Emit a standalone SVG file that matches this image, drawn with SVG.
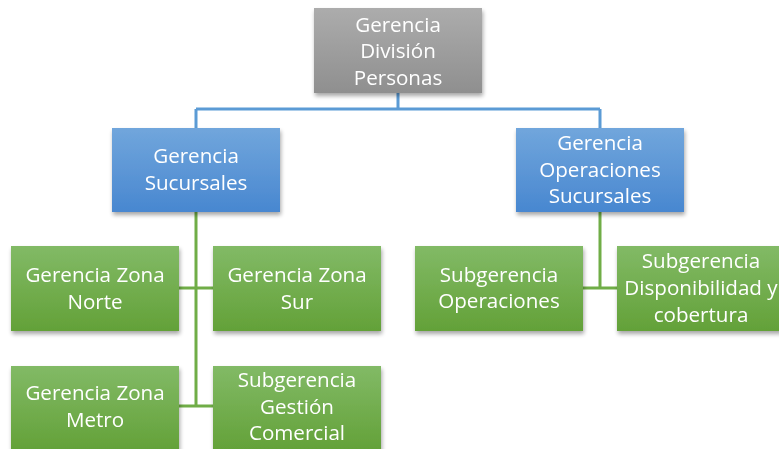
<svg xmlns="http://www.w3.org/2000/svg" width="779" height="449" viewBox="0 0 779 449">
<defs>
<linearGradient id="gGray" x1="0" y1="0" x2="0" y2="1"><stop offset="0" stop-color="#acacac"/><stop offset="1" stop-color="#8f8f8f"/></linearGradient>
<linearGradient id="gBlue" x1="0" y1="0" x2="0" y2="1"><stop offset="0" stop-color="#71a6dc"/><stop offset="1" stop-color="#4887d0"/></linearGradient>
<linearGradient id="gGreen" x1="0" y1="0" x2="0" y2="1"><stop offset="0" stop-color="#82ba66"/><stop offset="1" stop-color="#63a138"/></linearGradient>
<filter id="sh" x="-10%" y="-10%" width="125%" height="130%"><feGaussianBlur in="SourceAlpha" stdDeviation="2"/><feOffset dx="1" dy="3"/><feComponentTransfer><feFuncA type="linear" slope="0.35"/></feComponentTransfer><feMerge><feMergeNode/><feMergeNode in="SourceGraphic"/></feMerge></filter>
</defs>
<style>
text{font-family:"Open Sans","Liberation Sans",sans-serif;font-size:20.6px;fill:#fff;text-anchor:middle}
.gray{fill:url(#gGray)}
.blue{fill:url(#gBlue)}
.green{fill:url(#gGreen)}
.lb{stroke:#5b9bd5;stroke-width:3;fill:none}
.lg{stroke:#70ad47;stroke-width:3;fill:none}
</style>
<g id="connectors">
<path class="lb" d="M398 93V109M196 109H600M196 109V128M600 109V128"/>
<path class="lg" d="M196 212V407M179 288H213M179 406H213"/>
<path class="lg" d="M600 212V288M583 288H617"/>
</g>
<g id="n-top" filter="url(#sh)"><rect class="gray" x="314" y="8" width="168" height="85"/>
<text x="398" y="32">Gerencia</text><text x="398" y="58">División</text><text x="398" y="85">Personas</text></g>
<g id="n-suc" filter="url(#sh)"><rect class="blue" x="112" y="128" width="168" height="84"/>
<text x="196" y="163">Gerencia</text><text x="196" y="190">Sucursales</text></g>
<g id="n-ops" filter="url(#sh)"><rect class="blue" x="516" y="128" width="168" height="84"/>
<text x="600" y="150">Gerencia</text><text x="600" y="177">Operaciones</text><text x="600" y="203">Sucursales</text></g>
<g id="n-norte" filter="url(#sh)"><rect class="green" x="11" y="246" width="168" height="85"/>
<text x="95" y="282">Gerencia Zona</text><text x="95" y="309">Norte</text></g>
<g id="n-sur" filter="url(#sh)"><rect class="green" x="213" y="246" width="168" height="85"/>
<text x="297" y="282">Gerencia Zona</text><text x="297" y="309">Sur</text></g>
<g id="n-metro" filter="url(#sh)"><rect class="green" x="11" y="366" width="168" height="85"/>
<text x="95" y="400">Gerencia Zona</text><text x="95" y="427">Metro</text></g>
<g id="n-gestion" filter="url(#sh)"><rect class="green" x="213" y="366" width="168" height="85"/>
<text x="297" y="387">Subgerencia</text><text x="297" y="414">Gestión</text><text x="297" y="440">Comercial</text></g>
<g id="n-subops" filter="url(#sh)"><rect class="green" x="415" y="246" width="168" height="85"/>
<text x="499" y="282">Subgerencia</text><text x="499" y="308">Operaciones</text></g>
<g id="n-disp" filter="url(#sh)"><rect class="green" x="617" y="246" width="168" height="85"/>
<text x="701" y="268">Subgerencia</text><text x="701" y="295">Disponibilidad y</text><text x="701" y="322">cobertura</text></g>
</svg>
